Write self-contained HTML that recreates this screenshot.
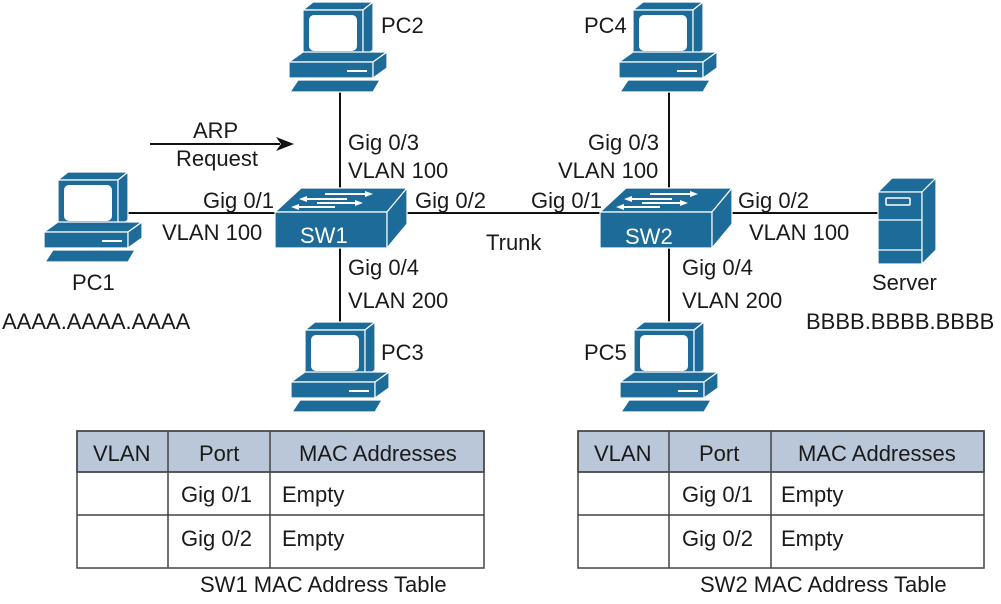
<!DOCTYPE html>
<html><head><meta charset="utf-8"><style>
html,body{margin:0;padding:0;background:#fff;}
svg{display:block;font-family:"Liberation Sans",Arial,sans-serif;}
</style></head><body>
<svg width="1001" height="604" viewBox="0 0 1001 604" xmlns="http://www.w3.org/2000/svg">
<defs>
<g id="pc" stroke="#fff" stroke-width="1.2" fill="#1d6b99" stroke-linejoin="round">
  <polygon points="0,10 10,2 70,2 60,10"/>
  <rect x="0" y="10" width="60" height="48"/>
  <polygon points="60,10 70,2 70,50 60,58"/>
  <rect x="6" y="15" width="48" height="36" rx="5" fill="#fff" stroke="none"/>
  <polygon points="-14,62 0,52 84,52 70,62"/>
  <rect x="-14" y="62" width="84" height="16"/>
  <polygon points="70,62 84,52 84,68 70,78"/>
  <rect x="44" y="70" width="20" height="2" fill="#fff" stroke="none"/>
  <polygon points="-13,92 -5,80 77,80 70,92"/>
</g>
<g id="sw" stroke="#fff" stroke-width="1.2" fill="#1d6b99" stroke-linejoin="round">
  <polygon points="0,26 26,2 132,2 112,26"/>
  <rect x="0" y="26" width="112" height="36"/>
  <polygon points="112,26 132,2 132,38 112,62"/>
  <g stroke="#fff" stroke-width="2" fill="#fff">
    <line x1="50" y1="8" x2="90" y2="8"/><polygon points="90,5 98,8 90,11" stroke="none"/>
    <line x1="32" y1="13" x2="72" y2="13"/><polygon points="32,10 24,13 32,16" stroke="none"/>
    <line x1="42" y1="17" x2="80" y2="17"/><polygon points="80,14 88,17 80,20" stroke="none"/>
    <line x1="24" y1="21" x2="60" y2="21"/><polygon points="24,18 16,21 24,24" stroke="none"/>
  </g>
</g>
</defs>
<g stroke="#111" stroke-width="2">
  <line x1="128" y1="213" x2="276" y2="213"/>
  <line x1="400" y1="213" x2="600" y2="213"/>
  <line x1="715" y1="213" x2="880" y2="213"/>
  <line x1="340" y1="92" x2="340" y2="325"/>
  <line x1="669" y1="92" x2="669" y2="325"/>
  <line x1="150" y1="144" x2="280" y2="144"/>
</g>
<polygon points="276,137 294,144 276,151 281,144" fill="#111"/>
<use href="#pc" x="58" y="170"/>
<use href="#pc" x="303" y="0"/>
<use href="#pc" x="305" y="320"/>
<use href="#pc" x="633" y="0"/>
<use href="#pc" x="634" y="320"/>
<use href="#sw" x="275" y="186"/>
<use href="#sw" x="600" y="186"/>
<g stroke="#fff" stroke-width="1.2" fill="#1d6b99">
  <polygon points="878,192 892,178 936,178 922,192"/>
  <rect x="878" y="192" width="44" height="72"/>
  <polygon points="922,192 936,178 936,250 922,264"/>
  <rect x="886" y="198" width="24" height="7" rx="1" fill="none" stroke-width="1.5"/>
  <line x1="878" y1="220" x2="922" y2="220"/>
  <line x1="878" y1="250" x2="922" y2="250"/>
</g>
<g font-size="22" fill="#1a1a1a">
  <text x="300" y="243" fill="#fff">SW1</text>
  <text x="625" y="244" fill="#fff">SW2</text>
  <text x="381" y="33">PC2</text>
  <text x="381" y="360">PC3</text>
  <text x="584" y="33">PC4</text>
  <text x="584" y="360">PC5</text>
  <text x="72" y="290">PC1</text>
  <text x="2" y="329">AAAA.AAAA.AAAA</text>
  <text x="872" y="290">Server</text>
  <text x="806" y="329">BBBB.BBBB.BBBB</text>
  <text x="193" y="138">ARP</text>
  <text x="176" y="166">Request</text>
  <text x="203" y="208">Gig 0/1</text>
  <text x="162" y="240">VLAN 100</text>
  <text x="348" y="150">Gig 0/3</text>
  <text x="348" y="178">VLAN 100</text>
  <text x="415" y="208">Gig 0/2</text>
  <text x="348" y="275">Gig 0/4</text>
  <text x="348" y="308">VLAN 200</text>
  <text x="486" y="250">Trunk</text>
  <text x="531" y="208">Gig 0/1</text>
  <text x="588" y="150">Gig 0/3</text>
  <text x="558" y="178">VLAN 100</text>
  <text x="738" y="208">Gig 0/2</text>
  <text x="749" y="240">VLAN 100</text>
  <text x="682" y="275">Gig 0/4</text>
  <text x="682" y="308">VLAN 200</text>
</g>
<g stroke="#444" stroke-width="1.5">
  <rect x="77" y="431" width="407" height="41" fill="#b9c7d9"/>
  <rect x="77" y="431" width="407" height="137" fill="none"/>
  <line x1="77" y1="472" x2="484" y2="472"/>
  <line x1="77" y1="515" x2="484" y2="515"/>
  <line x1="168" y1="431" x2="168" y2="568"/>
  <line x1="270" y1="431" x2="270" y2="568"/>
  <rect x="578" y="431" width="406" height="41" fill="#b9c7d9"/>
  <rect x="578" y="431" width="406" height="137" fill="none"/>
  <line x1="578" y1="472" x2="984" y2="472"/>
  <line x1="578" y1="515" x2="984" y2="515"/>
  <line x1="669" y1="431" x2="669" y2="568"/>
  <line x1="771" y1="431" x2="771" y2="568"/>
</g>
<g font-size="22" fill="#1a1a1a">
  <text x="93" y="461">VLAN</text><text x="199" y="461">Port</text><text x="299" y="461">MAC Addresses</text>
  <text x="181" y="502">Gig 0/1</text><text x="282" y="502">Empty</text>
  <text x="181" y="546">Gig 0/2</text><text x="282" y="546">Empty</text>
  <text x="200" y="592">SW1 MAC Address Table</text>
  <text x="594" y="461">VLAN</text><text x="699" y="461">Port</text><text x="798" y="461">MAC Addresses</text>
  <text x="682" y="502">Gig 0/1</text><text x="781" y="502">Empty</text>
  <text x="682" y="546">Gig 0/2</text><text x="781" y="546">Empty</text>
  <text x="700" y="592">SW2 MAC Address Table</text>
</g>
</svg>
</body></html>
